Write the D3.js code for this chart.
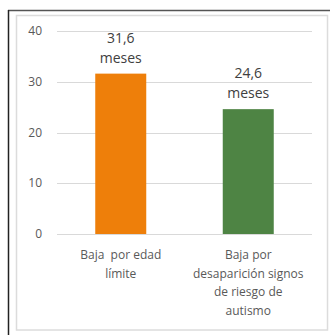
<!DOCTYPE html>
<html>
<head>
<meta charset="utf-8">
<script src="https://cdn.jsdelivr.net/npm/d3@7"></script>
<style>
  html, body { margin: 0; padding: 0; background: #fff; }
  svg { display: block; }
  text { font-family: "Open Sans", "Liberation Sans", sans-serif; white-space: pre; }
</style>
</head>
<body>
<svg id="chart" width="330" height="335"></svg>
<script>
// Months until discharge, by reason
const categories = [
  ["Baja  por edad", "límite"],
  ["Baja por", "desaparición signos", "de riesgo de", "autismo"]
];
const values = [31.6, 24.6];
const valueLabels = ["31,6", "24,6"];
const unit = "meses";
const colors = ["#EE7F0A", "#4E8444"];
const yTicks = [0, 10, 20, 30, 40];

const svg = d3.select("#chart");

// Outer frame (dark top/left edges) and inner chart-area frame
svg.append("line").attr("x1", 8).attr("x2", 330).attr("y1", 10.5).attr("y2", 10.5)
  .attr("stroke", "#555").attr("stroke-width", 1.5);
svg.append("line").attr("x1", 8.5).attr("x2", 8.5).attr("y1", 10).attr("y2", 335)
  .attr("stroke", "#222").attr("stroke-width", 1.5);
svg.append("rect").attr("x", 16.5).attr("y", 15.5).attr("width", 311).attr("height", 314.5)
  .attr("fill", "#fff").attr("stroke", "#dcdcdc").attr("stroke-width", 1.5);

const x = d3.scaleBand().domain(d3.range(values.length)).range([57, 312]).paddingInner(0.6).paddingOuter(0.3);
const y = d3.scaleLinear().domain([0, 40]).range([234, 31]);

// Horizontal gridlines
svg.append("g").selectAll("line").data(yTicks).join("line")
  .attr("x1", 57).attr("x2", 312)
  .attr("y1", d => Math.round(y(d)) + 0.5).attr("y2", d => Math.round(y(d)) + 0.5)
  .attr("stroke", "#d9d9d9").attr("stroke-width", 1);

// Y-axis tick labels
svg.append("g").selectAll("text").data(yTicks).join("text")
  .attr("x", 42).attr("y", d => y(d)).attr("dy", "0.35em")
  .attr("text-anchor", "end").attr("font-size", 12).attr("fill", "#595959")
  .text(d => d);

// Bars
svg.append("g").selectAll("rect").data(values).join("rect")
  .attr("x", (d, i) => x(i)).attr("width", x.bandwidth())
  .attr("y", d => y(d)).attr("height", d => y(0) - y(d))
  .attr("fill", (d, i) => colors[i]);

// Value labels above bars
const vl = svg.append("g").selectAll("text").data(values).join("text")
  .attr("text-anchor", "middle").attr("font-size", 14).attr("fill", "#404040")
  .attr("x", (d, i) => x(i) + x.bandwidth() / 2)
  .attr("y", d => y(d) - 31);
vl.append("tspan").text((d, i) => valueLabels[i]);
vl.append("tspan").attr("x", (d, i) => x(i) + x.bandwidth() / 2).attr("dy", 20).text(unit);

// Category labels
const cl = svg.append("g").selectAll("text").data(categories).join("text")
  .attr("text-anchor", "middle").attr("font-size", 12).attr("fill", "#595959")
  .attr("x", (d, i) => x(i) + x.bandwidth() / 2).attr("y", 259);
cl.selectAll("tspan").data((d, i) => d.map(s => ({ s, i }))).join("tspan")
  .attr("x", d => x(d.i) + x.bandwidth() / 2)
  .attr("dy", (d, j) => j === 0 ? 0 : 18.7)
  .text(d => d.s);
</script>
</body>
</html>
